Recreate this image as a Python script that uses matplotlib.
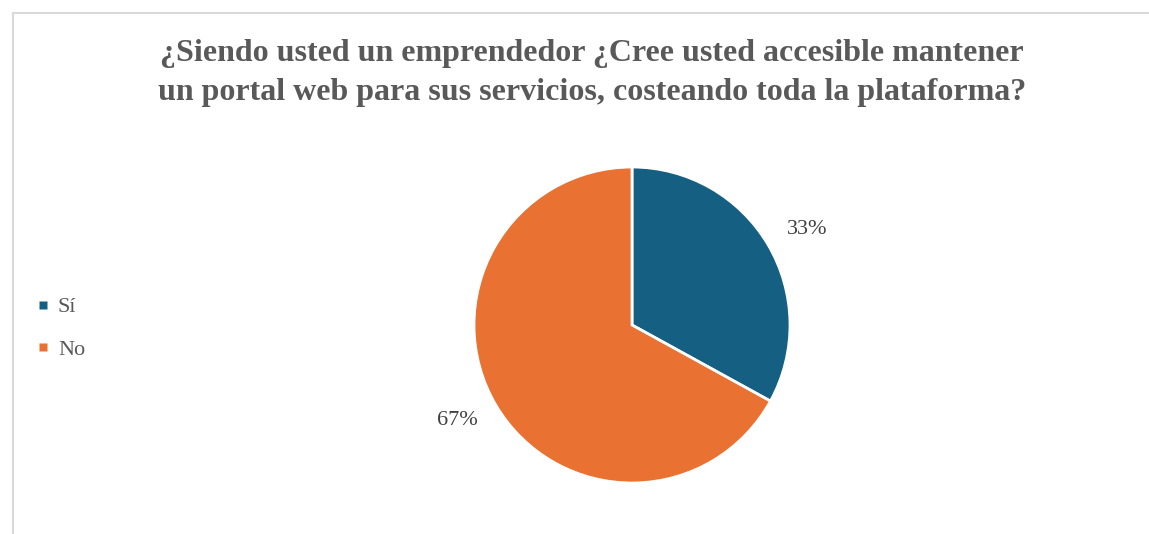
import matplotlib
matplotlib.use('Agg')
import numpy as np
import matplotlib.pyplot as plt
from matplotlib.lines import Line2D

title = ('¿Siendo usted un emprendedor ¿Cree usted accesible mantener\n'
         'un portal web para sus servicios, costeando toda la plataforma?')
labels = ['Sí', 'No']
values = [33, 67]
colors = ['#156082', '#E97132']

W, H = 1149, 534
fig = plt.figure(figsize=(W / 100, H / 100), dpi=100)
ax = fig.add_axes([0, 0, 1, 1])

cx, cy, r = 632, H - 325, 158
wedges, texts, autotexts = ax.pie(
    values, colors=colors, startangle=90, counterclock=False,
    center=(cx, cy), radius=r, frame=True,
    autopct='%1.0f%%', pctdistance=1.26,
    wedgeprops=dict(edgecolor='white', linewidth=2),
    textprops=dict(family='Liberation Serif', fontsize=16, color='#404040'))

# nudge the percentage labels a little like the outside-end placement
for w, t in zip(wedges, autotexts):
    mid = np.deg2rad((w.theta1 + w.theta2) / 2 - 2)
    t.set_position((cx + 1.26 * r * np.cos(mid), cy + 1.26 * r * np.sin(mid)))

ax.set_xlim(0, W)
ax.set_ylim(0, H)
ax.set_aspect('equal')
ax.axis('off')

fig.text(592 / W, 1 - 73 / H, title, ha='center', va='center',
         family='Liberation Serif', fontweight='bold', fontsize=23,
         color='#595959', linespacing=1.45)

handles = [Line2D([], [], marker='s', linestyle='none', markersize=6,
                  markerfacecolor=c, markeredgecolor='none') for c in colors]
fig.legend(handles, labels, loc='upper left',
           bbox_to_anchor=(29 / W, 1 - 288 / H), frameon=False,
           prop=dict(family='Liberation Serif', size=16),
           labelcolor='#595959', handlelength=0.5, handletextpad=0.4,
           labelspacing=1.0, borderaxespad=0)

# chart border (top and left edges visible)
fig.add_artist(Line2D([12.5 / W, 1], [1 - 12.5 / H, 1 - 12.5 / H],
                      transform=fig.transFigure, color='#d9d9d9', lw=1.5))
fig.add_artist(Line2D([12.5 / W, 12.5 / W], [0, 1 - 12.5 / H],
                      transform=fig.transFigure, color='#d9d9d9', lw=1.5))

fig.savefig('out.png', dpi=100, facecolor='white')
